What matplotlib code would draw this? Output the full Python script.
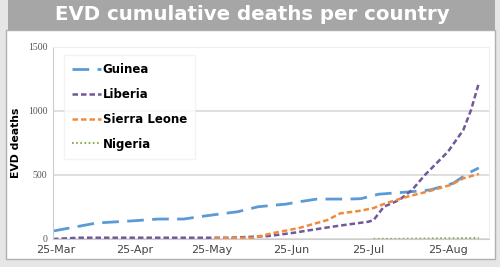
import numpy as np
import pandas as pd
import matplotlib
matplotlib.use("Agg")
import matplotlib.pyplot as plt
import matplotlib.dates as mdates
from matplotlib.patches import Rectangle

# cumulative deaths
guinea_dates = ["2014-03-24", "2014-04-10", "2014-04-25", "2014-05-04", "2014-05-14",
                "2014-05-20", "2014-05-28", "2014-06-04", "2014-06-12", "2014-06-23",
                "2014-06-28", "2014-07-05", "2014-07-17", "2014-07-22", "2014-07-29",
                "2014-08-11", "2014-08-18", "2014-08-27", "2014-09-02", "2014-09-06"]
guinea = [62, 125, 143, 156, 156, 174, 195, 213, 252, 273,
          291, 312, 312, 315, 350, 370, 383, 435, 515, 555]

liberia_dates = ["2014-03-24", "2014-04-03", "2014-06-01", "2014-06-16", "2014-06-26",
                 "2014-07-05", "2014-07-14", "2014-07-25", "2014-07-27", "2014-07-31",
                 "2014-08-06", "2014-08-11", "2014-08-16", "2014-08-25", "2014-08-31",
                 "2014-09-03", "2014-09-06"]
liberia = [0, 10, 10, 23, 49, 78, 105, 135, 148, 252,
           305, 383, 500, 682, 852, 1008, 1216]

sierra_dates = ["2014-05-26", "2014-06-10", "2014-06-18", "2014-06-28", "2014-07-09",
                "2014-07-14", "2014-07-22", "2014-07-27", "2014-08-01", "2014-08-09",
                "2014-08-17", "2014-08-26", "2014-08-31", "2014-09-06"]
sierra = [5, 10, 47, 86, 148, 200, 221, 242, 281, 330, 370, 422, 474, 508]

nigeria_dates = ["2014-07-27", "2014-08-04", "2014-08-09", "2014-08-13",
                 "2014-08-20", "2014-08-26", "2014-09-06"]
nigeria = [1, 1, 2, 3, 5, 6, 8]

tick_dates = ["2014-03-25", "2014-04-25", "2014-05-25", "2014-06-25", "2014-07-25", "2014-08-25"]
tick_labels = ["25-Mar", "25-Apr", "25-May", "25-Jun", "25-Jul", "25-Aug"]

fig = plt.figure(figsize=(5, 2.67), dpi=100, facecolor="#e6e6e6")
W, H = 500.0, 267.0

# white panel and grey title bar (behind the axes)
fig.patches.append(Rectangle((6 / W, 1 - 259 / H), 489 / W, 229 / H, transform=fig.transFigure,
                             facecolor="white", edgecolor="#b0b0b0", lw=1, zorder=-10))
fig.patches.append(Rectangle((8 / W, 1 - 30 / H), 487 / W, 30 / H, transform=fig.transFigure,
                             facecolor="#a6a6a6", edgecolor="none", zorder=-10))
fig.text(252 / W, 1 - 15 / H, "EVD cumulative deaths per country", color="white",
         fontsize=14.2, fontweight="bold", ha="center", va="center")

ax = fig.add_axes([53 / W, 1 - 239 / H, 436 / W, 192 / H])
ax.set_facecolor("white")

ax.plot(pd.to_datetime(guinea_dates), guinea, color="#5b9bd5", lw=2, dashes=(6, 3), label="Guinea")
ax.plot(pd.to_datetime(liberia_dates), liberia, color="#70589a", lw=1.8, dashes=(2.2, 1.2), label="Liberia")
ax.plot(pd.to_datetime(sierra_dates), sierra, color="#f08a3c", lw=1.8, dashes=(2.2, 1.2), label="Sierra Leone")
ax.plot(pd.to_datetime(nigeria_dates), nigeria, color="#8cae52", lw=1.5, dashes=(0.8, 1.2), label="Nigeria")

ax.set_xlim(pd.Timestamp("2014-03-24"), pd.Timestamp("2014-09-10"))
ax.set_ylim(0, 1500)
ax.set_yticks([0, 500, 1000, 1500])
ax.set_yticklabels(["0", "500", "1000", "1500"], family="Liberation Serif", fontsize=7, color="#555555")
ax.set_xticks(pd.to_datetime(tick_dates))
ax.set_xticklabels(tick_labels, fontsize=8, color="#444444")
ax.tick_params(length=0, pad=4)
ax.grid(axis="y", color="#d9d9d9", lw=1.2)
for s in ["top", "right"]:
    ax.spines[s].set_color("#eeeeee")
for s in ["left", "bottom"]:
    ax.spines[s].set_color("#cccccc")
ax.set_ylabel("EVD deaths", fontsize=7.8, fontweight="bold")
ax.yaxis.set_label_coords(-0.074, 0.5)

leg = ax.legend(loc="upper left", bbox_to_anchor=(0.012, 0.99), frameon=True, fancybox=False,
                prop={"weight": "bold", "size": 8.5}, handlelength=2.4, handletextpad=0.15,
                labelspacing=1.0, borderpad=0.7)
leg.get_frame().set_edgecolor("#f0f0f0")
leg.get_frame().set_linewidth(1)

fig.savefig("out.png", dpi=100, facecolor=fig.get_facecolor())
